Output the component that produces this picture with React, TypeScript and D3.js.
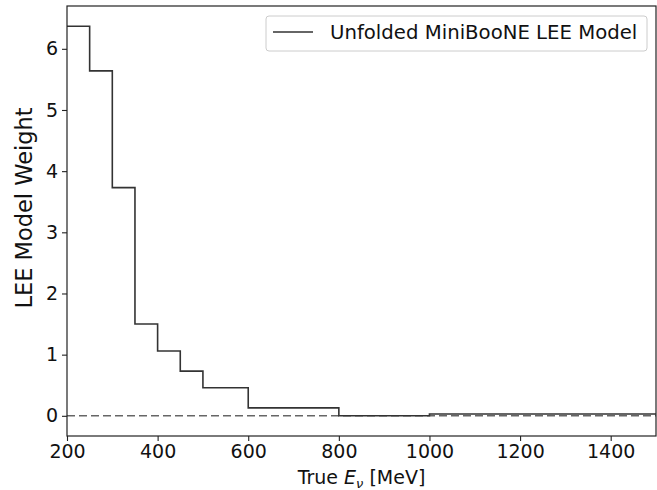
import * as d3 from 'd3';
import React, { useEffect, useRef } from 'react';

// bin edges in MeV and the weight of each bin
const binEdges = [200, 250, 300, 350, 400, 450, 500, 600, 800, 1000, 1500];
const weights = [6.37, 5.64, 3.73, 1.5, 1.06, 0.73, 0.46, 0.13, 0.0, 0.03];
const xTicks = [200, 400, 600, 800, 1000, 1200, 1400];
const yTicks = [0, 1, 2, 3, 4, 5, 6];
const legendLabel = 'Unfolded MiniBooNE LEE Model';

const width = 657;
const height = 490;
const margin = { top: 6, right: 1, bottom: 54, left: 67 };
const font = 'DejaVu Sans, sans-serif';

const App: React.FC = () => {
  const ref = useRef<SVGSVGElement | null>(null);

  useEffect(() => {
    if (!ref.current) return;
    const svg = d3.select(ref.current);
    svg.selectAll('*').remove();

    const x = d3.scaleLinear().domain([200, 1500]).range([margin.left, width - margin.right]);
    const y = d3.scaleLinear().domain([-0.33, 6.7]).range([height - margin.bottom, margin.top]);

    // zero line
    svg.append('line')
      .attr('x1', x(200)).attr('x2', x(1500))
      .attr('y1', y(0)).attr('y2', y(0))
      .attr('stroke', '#666')
      .attr('stroke-width', 1.5)
      .attr('stroke-dasharray', '8,4');

    // step histogram
    const pts: [number, number][] = binEdges.map((e, i) => [e, weights[Math.min(i, weights.length - 1)]]);
    const line = d3.line<[number, number]>()
      .x(d => x(d[0]))
      .y(d => y(d[1]))
      .curve(d3.curveStepAfter);
    svg.append('path')
      .attr('d', line(pts))
      .attr('fill', 'none')
      .attr('stroke', '#333')
      .attr('stroke-width', 1.6);

    // axes
    const xAxis = svg.append('g')
      .attr('transform', `translate(0,${height - margin.bottom})`)
      .call(d3.axisBottom(x).tickValues(xTicks).tickSize(5).tickPadding(4).tickFormat(d3.format('d')));
    const yAxis = svg.append('g')
      .attr('transform', `translate(${margin.left},0)`)
      .call(d3.axisLeft(y).tickValues(yTicks).tickSize(5).tickPadding(4).tickFormat(d3.format('d')));
    [xAxis, yAxis].forEach(g => {
      g.select('.domain').remove();
      g.selectAll('text').attr('font-family', font).attr('font-size', 19).attr('fill', '#111');
      g.selectAll('line').attr('stroke', '#222').attr('stroke-width', 1.1);
    });

    // frame
    svg.append('rect')
      .attr('x', margin.left).attr('y', margin.top)
      .attr('width', width - margin.right - margin.left)
      .attr('height', height - margin.bottom - margin.top)
      .attr('fill', 'none')
      .attr('stroke', '#222')
      .attr('stroke-width', 1.2);

    // axis labels
    const xl = svg.append('text')
      .attr('x', (margin.left + width - margin.right) / 2)
      .attr('y', 484)
      .attr('text-anchor', 'middle')
      .attr('font-family', font)
      .attr('font-size', 19)
      .attr('fill', '#111');
    xl.append('tspan').text('True ');
    xl.append('tspan').attr('font-style', 'italic').text('E');
    xl.append('tspan').attr('font-style', 'italic').attr('font-size', 13).attr('dy', 4).text('ν');
    xl.append('tspan').attr('dy', -4).text(' [MeV]');

    svg.append('text')
      .attr('transform', 'translate(32,208) rotate(-90)')
      .attr('text-anchor', 'middle')
      .attr('font-family', font)
      .attr('font-size', 22.5)
      .attr('fill', '#111')
      .text('LEE Model Weight');

    // legend
    const lg = svg.append('g').attr('transform', 'translate(266,16)');
    lg.append('rect')
      .attr('width', 381).attr('height', 35).attr('rx', 3)
      .attr('fill', 'white').attr('stroke', '#ccc').attr('stroke-width', 1);
    lg.append('line')
      .attr('x1', 7).attr('x2', 47).attr('y1', 16).attr('y2', 16)
      .attr('stroke', '#333').attr('stroke-width', 1.6);
    lg.append('text')
      .attr('x', 64).attr('y', 23)
      .attr('font-family', font).attr('font-size', 19.7).attr('fill', '#111')
      .text(legendLabel);
  }, []);

  return (
    <svg ref={ref} width={width} height={height}
      style={{ position: 'absolute', left: 0, top: 0, background: 'white' }} />
  );
};

export default App;
